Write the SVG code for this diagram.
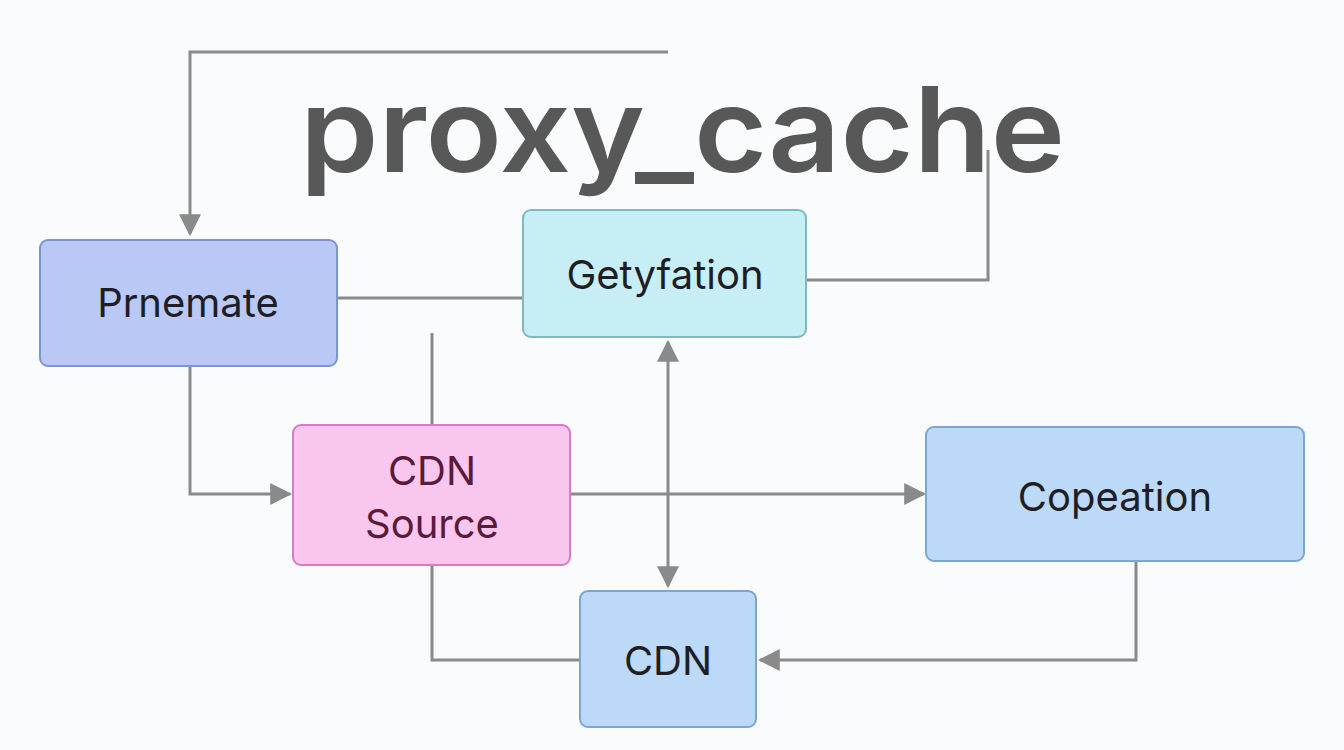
<svg xmlns="http://www.w3.org/2000/svg" width="1344" height="750" viewBox="0 0 1344 750">
<defs>
<style>
.n{stroke-width:2}
.t{font-family:"Inter","Liberation Sans",sans-serif;font-size:40px;fill:#1e1e24;text-anchor:middle}
.c{fill:none;stroke:#8a8a8a;stroke-width:3}
</style>
<marker id="b" viewBox="0 0 10 10" refX="9" refY="5" markerWidth="22" markerHeight="22" orient="auto-start-reverse" markerUnits="userSpaceOnUse"><path d="M0,0L10,5L0,10z" fill="#8a8a8a"/></marker>
</defs>
<rect width="1344" height="750" fill="#fafbfc"/>
<text x="300" y="172" font-family="Inter,'Liberation Sans',sans-serif" font-weight="600" font-size="118" fill="#585858" textLength="765" lengthAdjust="spacingAndGlyphs">proxy_cache</text>
<g id="connectors">
<path class="c" d="M668,52H190V234" marker-end="url(#b)"/>
<path class="c" d="M806,280H988V150"/>
<path class="c" d="M337,298H523"/>
<path class="c" d="M432,333V425"/>
<path class="c" d="M190,366V494H290" marker-end="url(#b)"/>
<path class="c" d="M570,494H924" marker-end="url(#b)"/>
<path class="c" d="M668,342V586" marker-start="url(#b)" marker-end="url(#b)"/>
<path class="c" d="M432,565V660H580"/>
<path class="c" d="M1136,561V660H760" marker-end="url(#b)"/>
</g>
<g id="prnemate"><rect class="n" x="40" y="240" width="297" height="126" rx="8" fill="#b9c8f5" stroke="#7d93d8"/><text class="t" x="188" y="317">Prnemate</text></g>
<g id="getyfation"><rect class="n" x="523" y="210" width="283" height="127" rx="8" fill="#c8eef5" stroke="#7fb7c5"/><text class="t" x="665" y="289">Getyfation</text></g>
<g id="cdnsource"><rect class="n" x="293" y="425" width="277" height="140" rx="8" fill="#f9c6ee" stroke="#d67cc6"/><text class="t" x="432" y="485" style="fill:#5a1a3a">CDN</text><text class="t" x="432" y="538" style="fill:#5a1a3a">Source</text></g>
<g id="copeation"><rect class="n" x="926" y="427" width="378" height="134" rx="8" fill="#bcd9f8" stroke="#7aa5d6"/><text class="t" x="1115" y="511">Copeation</text></g>
<g id="cdn"><rect class="n" x="580" y="591" width="176" height="136" rx="8" fill="#bcd9f8" stroke="#7aa5d6"/><text class="t" x="668" y="675">CDN</text></g>
</svg>
